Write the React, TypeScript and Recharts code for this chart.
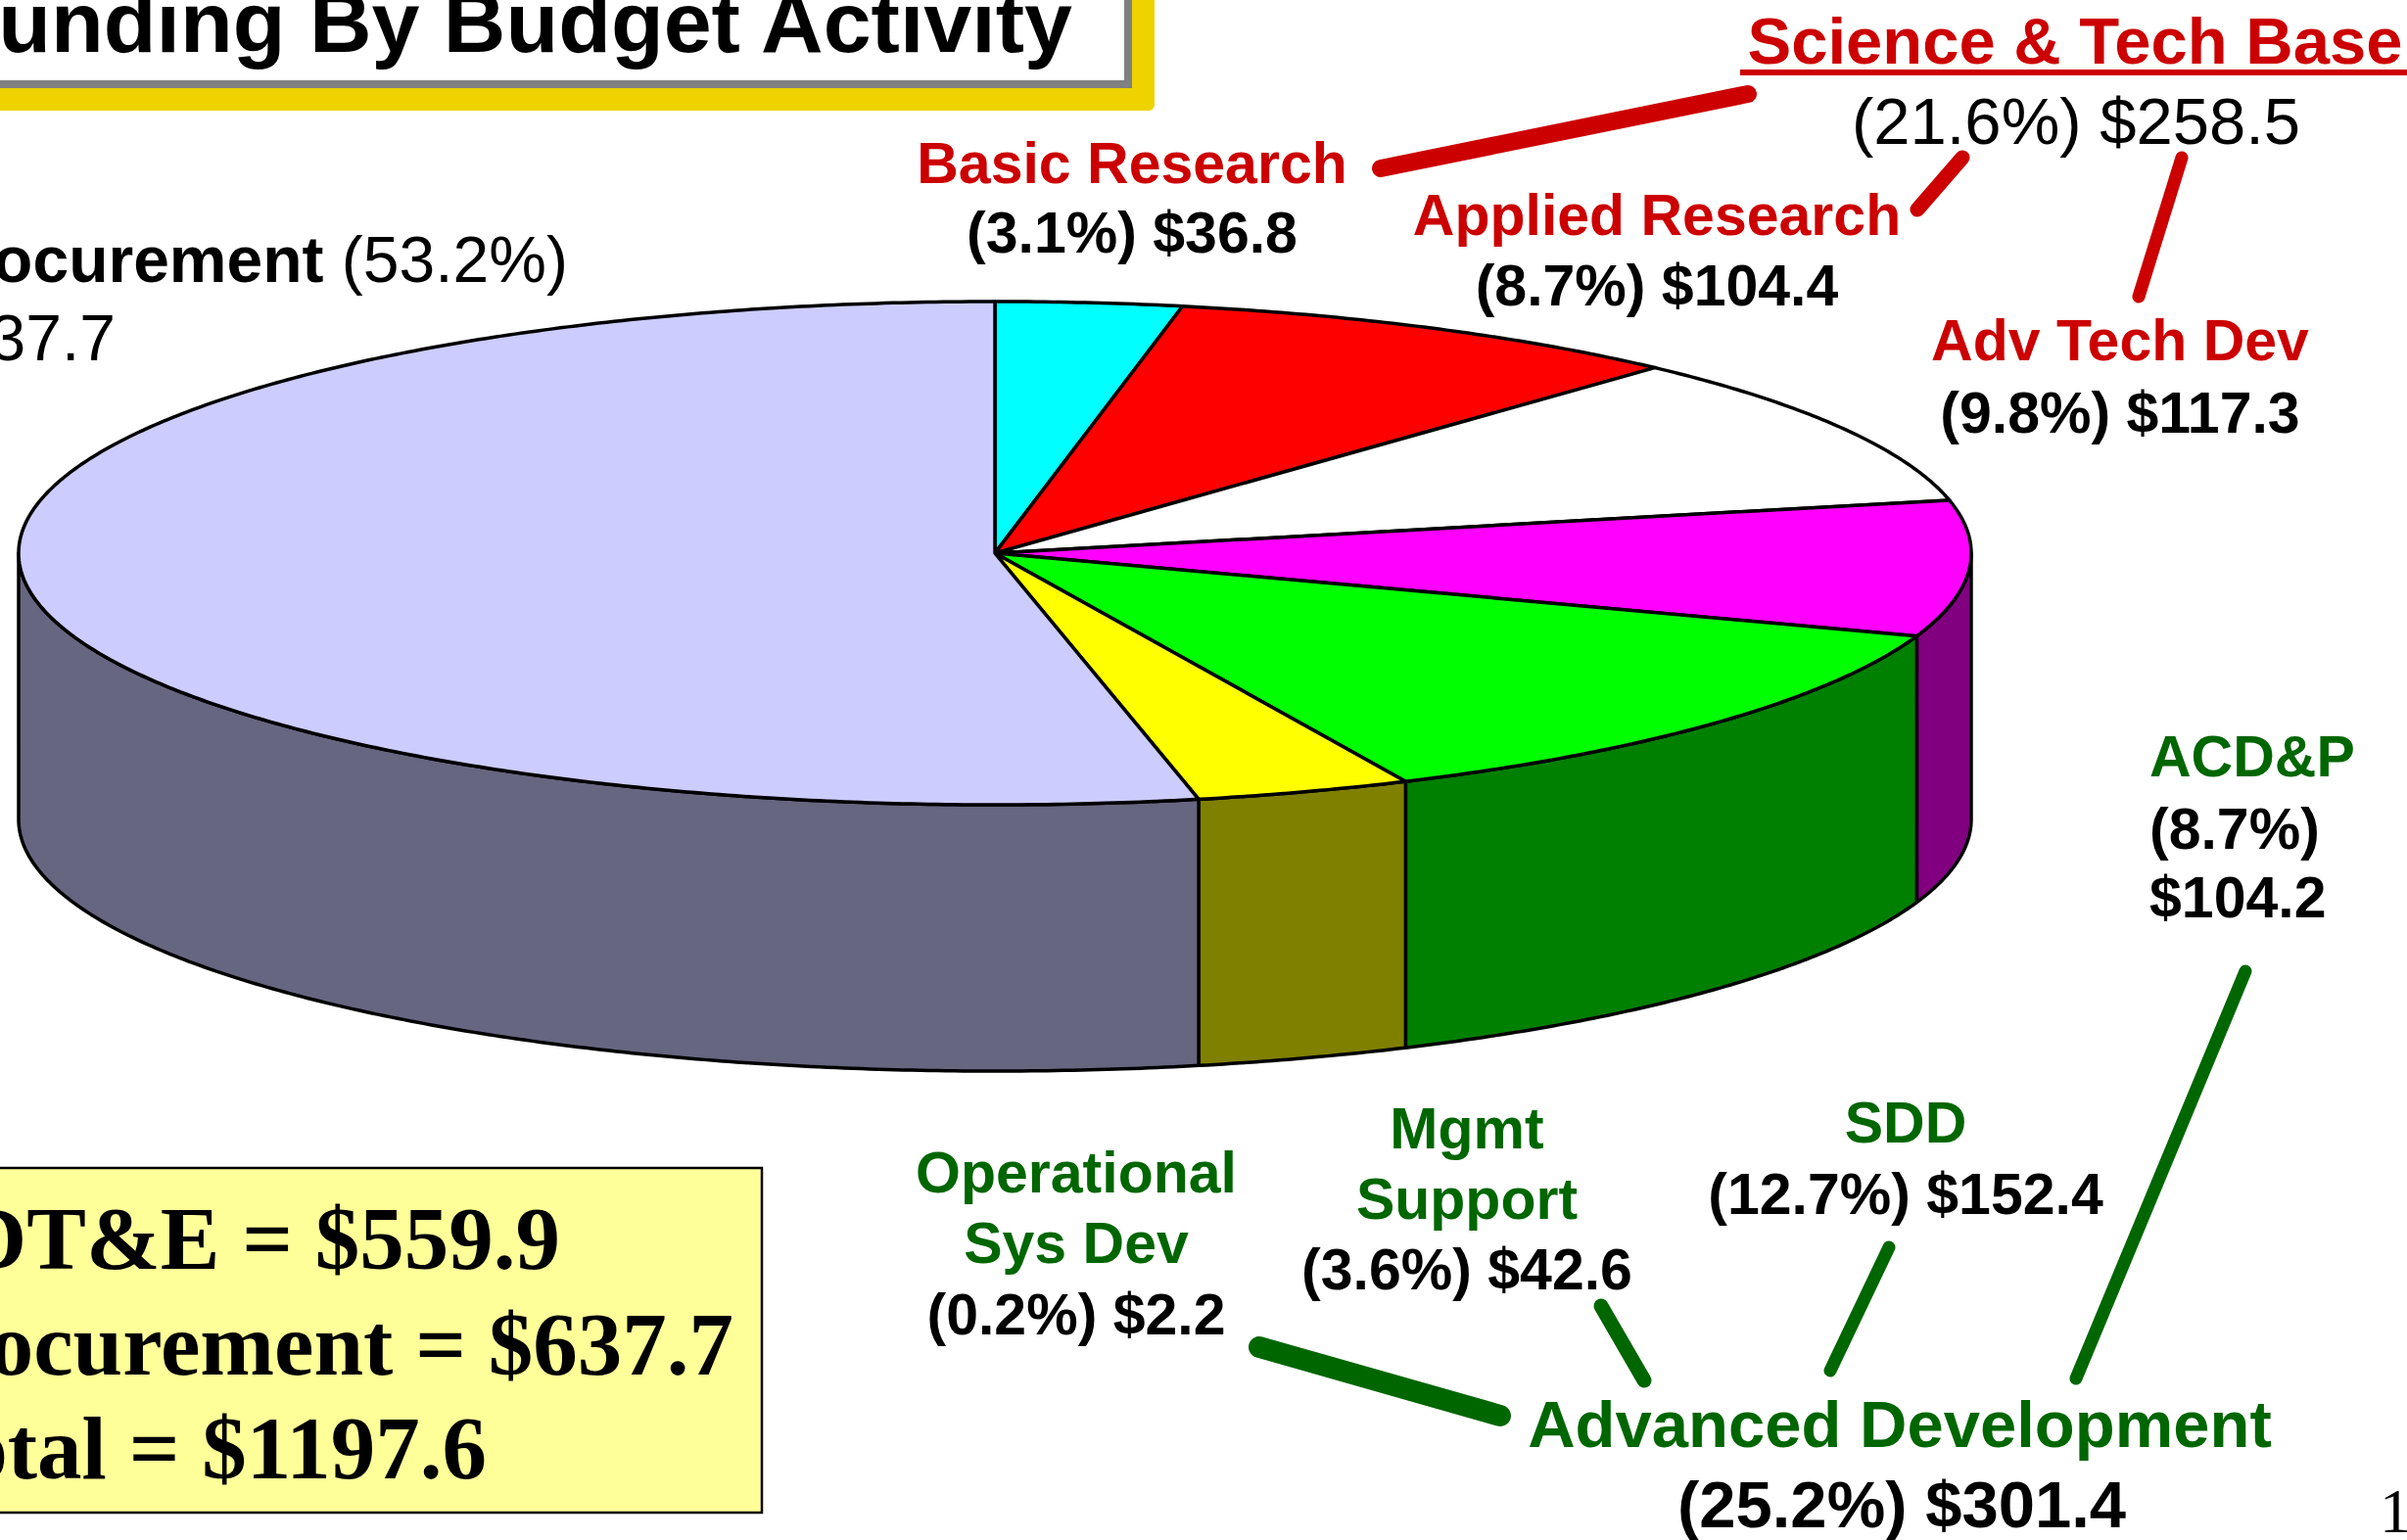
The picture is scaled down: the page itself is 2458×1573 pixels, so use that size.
import { Cell, Pie, PieChart } from 'recharts'

// budget activities, clockwise from 12 o'clock ($M)
const ACTIVITIES = ['Basic Research', 'Applied Research', 'Adv Tech Dev', 'ACD&P', 'SDD', 'Mgmt Support', 'Procurement']
const AMOUNTS = [36.8, 104.4, 117.3, 104.2, 152.4, 42.6, 637.7]
const PERCENTS = ['3.1', '8.7', '9.8', '8.7', '12.7', '3.6', '53.2']
// Operational Sys Dev is too thin to show up in the pie
const OPS = { name: 'Operational Sys Dev', amount: 2.2, percent: '0.2' }
const SCIENCE_TECH = { name: 'Science & Tech Base', amount: 258.5, percent: '21.6' }
const ADV_DEV = { name: 'Advanced Development', amount: 301.4, percent: '25.2' }
const TOTALS = [['RDT&E', 559.9], ['Procurement', 637.7], ['Total', 1197.6]] as const

const TOP_COLORS = ['#00FFFF', '#FF0000', '#FFFFFF', '#FF00FF', '#00FF00', '#FFFF00', '#CCCCFF']
const SIDE_COLORS = ['#008080', '#800000', '#808080', '#800080', '#008000', '#808000', '#666680']

const RED = '#CC0000'
const GREEN = '#006600'
const SANS = '"Liberation Sans", Arial, sans-serif'
const SERIF = '"Liberation Serif", "Times New Roman", serif'

const TILT = 0.2578
const DEPTH = 272
const RAD = Math.PI / 180

const pieData = ACTIVITIES.map((name, i) => ({ name, value: AMOUNTS[i], index: i }))

function arcPoints(cx: number, cy: number, rx: number, ry: number, a0: number, a1: number, dy = 0) {
  const n = Math.max(2, Math.ceil(Math.abs(a1 - a0) * 2))
  const pts: string[] = []
  for (let k = 0; k <= n; k++) {
    const a = (a0 + ((a1 - a0) * k) / n) * RAD
    pts.push(`${(cx + rx * Math.cos(a)).toFixed(2)},${(cy - ry * Math.sin(a) + dy).toFixed(2)}`)
  }
  return pts
}

// flattened sector + front wall, from the angles Recharts hands us
function Slice3D(props: any) {
  const { cx, cy, outerRadius, startAngle, endAngle, fill, payload } = props
  const rx = outerRadius
  const ry = outerRadius * TILT
  const top = `M${cx},${cy} L${arcPoints(cx, cy, rx, ry, startAngle, endAngle).join(' L')} Z`
  const lo = Math.min(startAngle, endAngle)
  const hi = Math.max(startAngle, endAngle)
  const s = Math.max(lo, -180)
  const e = Math.min(hi, 0)
  const idx = payload?.index ?? props.index ?? 0
  let wall = null
  if (e > s) {
    const upper = arcPoints(cx, cy, rx, ry, s, e)
    const lower = arcPoints(cx, cy, rx, ry, e, s, DEPTH)
    wall = <path d={`M${upper.join(' L')} L${lower.join(' L')} Z`} fill={SIDE_COLORS[idx]} stroke="#000" strokeWidth={3.5} strokeLinejoin="round" />
  }
  return (
    <g>
      {wall}
      <path d={top} fill={fill} stroke="#000" strokeWidth={3.5} strokeLinejoin="round" />
    </g>
  )
}

function Leader({ x1, y1, x2, y2, w, color }: { x1: number; y1: number; x2: number; y2: number; w: number; color: string }) {
  return <line x1={x1} y1={y1} x2={x2} y2={y2} stroke={color} strokeWidth={w} strokeLinecap="round" />
}

function Label({ x, y, lines }: { x: number; y: number; lines: [string, string, number][] }) {
  return (
    <text x={x} textAnchor="middle" fontFamily={SANS} fontWeight="bold" fontSize={59}>
      {lines.map(([t, c, yy], i) => (
        <tspan key={i} x={x} y={y + yy} fill={c}>{t}</tspan>
      ))}
    </text>
  )
}

const money = (v: number) => `$${v.toFixed(1)}`
const amountLine = (i: number) => `(${PERCENTS[i]}%) ${money(AMOUNTS[i])}`

export default function App() {
  return (
    <div style={{ position: 'absolute', left: 0, top: 0, width: 2458, height: 1573, overflow: 'hidden', background: '#fff' }}>
      <div style={{ position: 'absolute', left: 0, top: 0 }}>
        <PieChart width={2458} height={1573} margin={{ top: 0, right: 0, bottom: 0, left: 0 }}>
          <Pie
            data={pieData}
            dataKey="value"
            nameKey="name"
            cx={1016}
            cy={565}
            outerRadius={997}
            startAngle={90}
            endAngle={-270}
            isAnimationActive={false}
            label={false}
            labelLine={false}
            shape={Slice3D}
            activeShape={Slice3D}
          >
            {pieData.map((d) => (
              <Cell key={d.name} fill={TOP_COLORS[d.index]} />
            ))}
          </Pie>
        </PieChart>
      </div>

      <svg width={2458} height={1573} style={{ position: 'absolute', left: 0, top: 0 }}>
        {/* title plate */}
        <rect x={-20} y={-20} width={1199} height={133} rx={6} fill="#EED300" />
        <rect x={-20} y={-20} width={1176} height={110} fill="#808080" />
        <rect x={-20} y={-20} width={1168} height={102} fill="#fff" />
        <text x={1095} y={53} textAnchor="end" fontFamily={SANS} fontWeight="bold" fontSize={88} fill="#000">
          Funding By Budget Activity
        </text>

        {/* procurement label, cut at left edge */}
        <text x={580} y={288} textAnchor="end" fontFamily={SANS} fontSize={66} fill="#000">
          <tspan fontWeight="bold">{ACTIVITIES[6]}</tspan> ({PERCENTS[6]}%)
        </text>
        <text x={118} y={368} textAnchor="end" fontFamily={SANS} fontSize={66} fill="#000">
          {money(AMOUNTS[6])}
        </text>

        {/* science & tech base */}
        <text x={2119} y={65} textAnchor="middle" fontFamily={SANS} fontWeight="bold" fontSize={67} fill={RED}>
          {SCIENCE_TECH.name}
        </text>
        <rect x={1777} y={71} width={684} height={6} fill={RED} />
        <text x={2120} y={147} textAnchor="middle" fontFamily={SANS} fontSize={67} fill="#000">
          ({SCIENCE_TECH.percent}%) {money(SCIENCE_TECH.amount)}
        </text>
        <Leader x1={1410} y1={172} x2={1785} y2={96} w={18} color={RED} />
        <Leader x1={1958} y1={214} x2={2004} y2={161} w={15} color={RED} />
        <Leader x1={2184} y1={303} x2={2228} y2={161} w={13} color={RED} />

        <Label x={1156} y={187} lines={[[ACTIVITIES[0], RED, 0], [amountLine(0), '#000', 71]]} />
        <Label x={1692} y={240} lines={[[ACTIVITIES[1], RED, 0], [amountLine(1), '#000', 72]]} />
        <Label x={2165} y={368} lines={[[ACTIVITIES[2], RED, 0], [amountLine(2), '#000', 74]]} />

        {/* ACD&P */}
        <text x={2195} fontFamily={SANS} fontWeight="bold" fontSize={59}>
          <tspan x={2195} y={793} fill={GREEN}>{ACTIVITIES[3]}</tspan>
          <tspan x={2195} y={867} fill="#000">({PERCENTS[3]}%)</tspan>
          <tspan x={2195} y={937} fill="#000">{money(AMOUNTS[3])}</tspan>
        </text>

        <Label x={1946} y={1167} lines={[[ACTIVITIES[4], GREEN, 0], [amountLine(4), '#000', 73]]} />
        <Label x={1498} y={1173} lines={[['Mgmt', GREEN, 0], ['Support', GREEN, 72], [amountLine(5), '#000', 144]]} />
        <Label
          x={1099}
          y={1218}
          lines={[['Operational', GREEN, 0], ['Sys Dev', GREEN, 72], [`(${OPS.percent}%) ${money(OPS.amount)}`, '#000', 145]]}
        />

        <Leader x1={1286} y1={1376} x2={1532} y2={1446} w={22} color={GREEN} />
        <Leader x1={1635} y1={1334} x2={1679} y2={1410} w={15} color={GREEN} />
        <Leader x1={1929} y1={1274} x2={1869} y2={1400} w={13} color={GREEN} />
        <Leader x1={2293} y1={992} x2={2120} y2={1408} w={13} color={GREEN} />

        <text x={1940} y={1478} textAnchor="middle" fontFamily={SANS} fontWeight="bold" fontSize={67} fill={GREEN}>
          {ADV_DEV.name}
        </text>
        <text x={1942} y={1560} textAnchor="middle" fontFamily={SANS} fontWeight="bold" fontSize={67} fill="#000">
          ({ADV_DEV.percent}%) {money(ADV_DEV.amount)}
        </text>

        {/* totals box */}
        <rect x={-10} y={1193} width={788} height={352} fill="#FFFF99" stroke="#000" strokeWidth={2.5} />
        {TOTALS.map(([name, v], i) => (
          <text
            key={name}
            x={[572, 749, 497][i]}
            y={[1296, 1404, 1510][i]}
            textAnchor="end"
            fontFamily={SERIF}
            fontWeight="bold"
            fontSize={91}
            fill="#000"
          >
            {name} = {money(v)}
          </text>
        ))}

        <text x={2430} y={1565} fontFamily={SERIF} fontSize={64} fill="#000">19</text>
      </svg>
    </div>
  )
}
